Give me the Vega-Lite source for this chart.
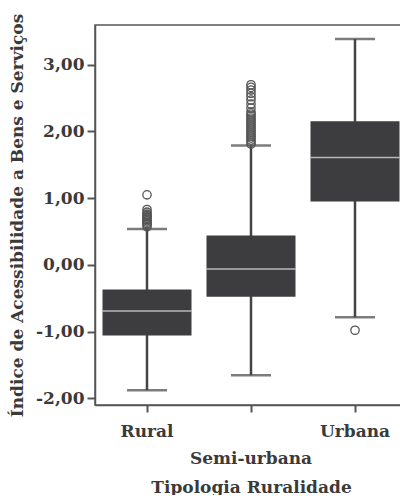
{
  "$schema": "https://vega.github.io/schema/vega-lite/v6.json",
  "width": 312,
  "height": 380,
  "padding": {"left": 8, "top": 13, "right": 0, "bottom": 0},
  "background": "white",
  "config": {
    "view": {"stroke": "#555", "strokeWidth": 1.5},
    "font": "DejaVu Serif",
    "axis": {
      "labelFont": "DejaVu Serif",
      "titleFont": "DejaVu Serif",
      "labelFontSize": 17,
      "titleFontSize": 17,
      "labelFontWeight": "bold",
      "titleFontWeight": "bold",
      "labelColor": "#3a3a3a",
      "titleColor": "#3a3a3a",
      "domainColor": "#555",
      "domainWidth": 1.5,
      "tickColor": "#555",
      "tickWidth": 2,
      "tickSize": 7,
      "grid": false
    }
  },
  "datasets": {
    "boxes": [
      {"Tipologia": "Rural", "lower": -1.88, "q1": -1.06, "median": -0.69, "q3": -0.37, "upper": 0.536},
      {"Tipologia": "Semi-urbana", "lower": -1.654, "q1": -0.476, "median": -0.063, "q3": 0.44, "upper": 1.789},
      {"Tipologia": "Urbana", "lower": -0.786, "q1": 0.95, "median": 1.609, "q3": 2.153, "upper": 3.386}
    ],
    "outliers": [
      {"Tipologia": "Rural", "value": 0.57},
      {"Tipologia": "Rural", "value": 0.60},
      {"Tipologia": "Rural", "value": 0.62},
      {"Tipologia": "Rural", "value": 0.64},
      {"Tipologia": "Rural", "value": 0.66},
      {"Tipologia": "Rural", "value": 0.68},
      {"Tipologia": "Rural", "value": 0.70},
      {"Tipologia": "Rural", "value": 0.72},
      {"Tipologia": "Rural", "value": 0.74},
      {"Tipologia": "Rural", "value": 0.76},
      {"Tipologia": "Rural", "value": 0.79},
      {"Tipologia": "Rural", "value": 0.83},
      {"Tipologia": "Rural", "value": 1.05},
      {"Tipologia": "Semi-urbana", "value": 1.81},
      {"Tipologia": "Semi-urbana", "value": 1.84},
      {"Tipologia": "Semi-urbana", "value": 1.87},
      {"Tipologia": "Semi-urbana", "value": 1.90},
      {"Tipologia": "Semi-urbana", "value": 1.93},
      {"Tipologia": "Semi-urbana", "value": 1.96},
      {"Tipologia": "Semi-urbana", "value": 1.99},
      {"Tipologia": "Semi-urbana", "value": 2.02},
      {"Tipologia": "Semi-urbana", "value": 2.05},
      {"Tipologia": "Semi-urbana", "value": 2.08},
      {"Tipologia": "Semi-urbana", "value": 2.11},
      {"Tipologia": "Semi-urbana", "value": 2.14},
      {"Tipologia": "Semi-urbana", "value": 2.17},
      {"Tipologia": "Semi-urbana", "value": 2.20},
      {"Tipologia": "Semi-urbana", "value": 2.23},
      {"Tipologia": "Semi-urbana", "value": 2.26},
      {"Tipologia": "Semi-urbana", "value": 2.29},
      {"Tipologia": "Semi-urbana", "value": 2.35},
      {"Tipologia": "Semi-urbana", "value": 2.41},
      {"Tipologia": "Semi-urbana", "value": 2.47},
      {"Tipologia": "Semi-urbana", "value": 2.52},
      {"Tipologia": "Semi-urbana", "value": 2.57},
      {"Tipologia": "Semi-urbana", "value": 2.62},
      {"Tipologia": "Semi-urbana", "value": 2.66},
      {"Tipologia": "Semi-urbana", "value": 2.70},
      {"Tipologia": "Urbana", "value": -0.98}
    ]
  },
  "encoding": {
    "x": {
      "field": "Tipologia",
      "type": "nominal",
      "sort": ["Rural", "Semi-urbana", "Urbana"],
      "scale": {"paddingInner": 0, "paddingOuter": 0},
      "axis": {
        "title": "Tipologia Ruralidade",
        "labelAngle": 0,
        "labelPadding": 11,
        "labelLineHeight": 27,
        "labelExpr": "datum.value == 'Semi-urbana' ? ['', 'Semi-urbana'] : datum.value",
        "titlePadding": 13
      }
    }
  },
  "layer": [
    {
      "data": {"name": "boxes"},
      "mark": {"type": "rule", "color": "#444", "strokeWidth": 2.5},
      "encoding": {
        "y": {
          "field": "lower",
          "type": "quantitative",
          "scale": {"domain": [-2.1, 3.595], "nice": false, "zero": false},
          "axis": {
            "title": "Índice de Acessibilidade a Bens e Serviços",
            "values": [-2, -1, 0, 1, 2, 3],
            "labelExpr": "replace(replace(format(datum.value, '.2f'), '.', ','), '\u2212', '-')",
            "labelPadding": 3,
            "tickSize": 8,
            "titlePadding": 9
          }
        },
        "y2": {"field": "upper"}
      }
    },
    {
      "data": {"name": "boxes"},
      "mark": {"type": "tick", "color": "#444", "thickness": 2.5, "size": 40},
      "encoding": {"y": {"field": "lower", "type": "quantitative"}}
    },
    {
      "data": {"name": "boxes"},
      "mark": {"type": "tick", "color": "#444", "thickness": 2.5, "size": 40},
      "encoding": {"y": {"field": "upper", "type": "quantitative"}}
    },
    {
      "data": {"name": "boxes"},
      "mark": {"type": "bar", "color": "#3d3d3f", "size": 89},
      "encoding": {
        "y": {"field": "q1", "type": "quantitative"},
        "y2": {"field": "q3"}
      }
    },
    {
      "data": {"name": "boxes"},
      "mark": {"type": "tick", "color": "#ececec", "thickness": 1.5, "size": 89},
      "encoding": {"y": {"field": "median", "type": "quantitative"}}
    },
    {
      "data": {"name": "outliers"},
      "mark": {"type": "point", "shape": "circle", "filled": false, "color": "#555", "strokeWidth": 1.3, "size": 70, "opacity": 1},
      "encoding": {"y": {"field": "value", "type": "quantitative"}}
    }
  ]
}
